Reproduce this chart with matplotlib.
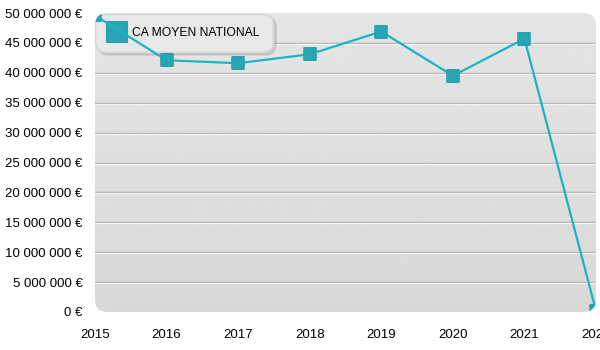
import numpy as np
import matplotlib
matplotlib.use("Agg")
import matplotlib.pyplot as plt
from matplotlib.markers import MarkerStyle
from matplotlib.patches import FancyBboxPatch
from matplotlib.lines import Line2D
import matplotlib.transforms as mtransforms

# === Data ===
years = [2015, 2016, 2017, 2018, 2019, 2020, 2021, 2022]
ca_moyen = [49.6e6, 42.1e6, 41.6e6, 43.1e6, 46.9e6, 39.5e6, 45.7e6, 0.2e6]
y_ticks = [0, 5e6, 10e6, 15e6, 20e6, 25e6, 30e6, 35e6, 40e6, 45e6, 50e6]
series_label = "CA MOYEN NATIONAL"

LINE = "#1cb3c5"
MARK = "#27a7b6"

plt.rcParams['font.family'] = ['Liberation Sans', 'DejaVu Sans']

fig = plt.figure(figsize=(6, 3.5), dpi=100)
ax = fig.add_axes([95/600, 1 - 312/350, 501/600, 299/350])
ax.set_xlim(2015, 2022)
ax.set_ylim(0, 50e6)

# rounded gray background with slight vertical gradient
bg = FancyBboxPatch((0, 0), 1, 1, boxstyle="round,pad=0,rounding_size=0.025",
                    transform=ax.transAxes, facecolor="none", edgecolor="none",
                    mutation_aspect=501/299)
ax.add_patch(bg)
grad = np.linspace(0.85, 0.895, 100).reshape(-1, 1)
im = ax.imshow(grad, cmap="gray", vmin=0, vmax=1, aspect="auto",
               extent=[2015, 2022, 0, 50e6], origin="lower", zorder=0)
im.set_clip_path(bg)

# embossed grid lines
shift = mtransforms.offset_copy(ax.transData, fig=fig, y=-1, units="dots")
for v in y_ticks[1:-1]:
    ax.plot([2015, 2022], [v, v], color="#ababab", lw=1, zorder=1)
    ax.plot([2015, 2022], [v, v], color="#f4f4f4", lw=1, zorder=1, transform=shift)

ms = MarkerStyle("s", joinstyle="round")
ln, = ax.plot(years, ca_moyen, color=LINE, lw=1.6, zorder=3)
mk, = ax.plot(years, ca_moyen, ls="none", marker=ms, markersize=9,
              markerfacecolor=MARK, markeredgecolor="#2aa0b0", markeredgewidth=1.2,
              zorder=4)
ln.set_clip_path(bg)
mk.set_clip_path(bg)

for s in ax.spines.values():
    s.set_visible(False)
ax.set_xticks(years)
ax.set_xticklabels([str(y) for y in years])
ax.set_yticks(y_ticks)
ax.set_yticklabels([f"{int(v):,} €".replace(",", " ") for v in y_ticks])
ax.tick_params(length=0, labelsize=9.5, colors="black", pad=9)
ax.tick_params(axis="x", pad=12)

handle = Line2D([], [], ls="none", marker=ms, markersize=14,
                markerfacecolor=MARK, markeredgecolor="#2aa0b0", markeredgewidth=1.5)
leg = ax.legend([handle], [series_label], loc="upper left",
                bbox_to_anchor=(0.0, 0.998), borderaxespad=0, fancybox=True,
                shadow={"ox": 2, "oy": -2, "alpha": 0.15},
                fontsize=8.7, borderpad=1.1, handletextpad=0.5,
                handlelength=1.5, framealpha=1)
leg.get_frame().set_facecolor("#e8e8e8")
leg.get_frame().set_edgecolor("#d4d4d4")
leg.get_frame().set_boxstyle("round,pad=0,rounding_size=0.9")
leg.set_zorder(2)

fig.savefig("out.png", dpi=100)
